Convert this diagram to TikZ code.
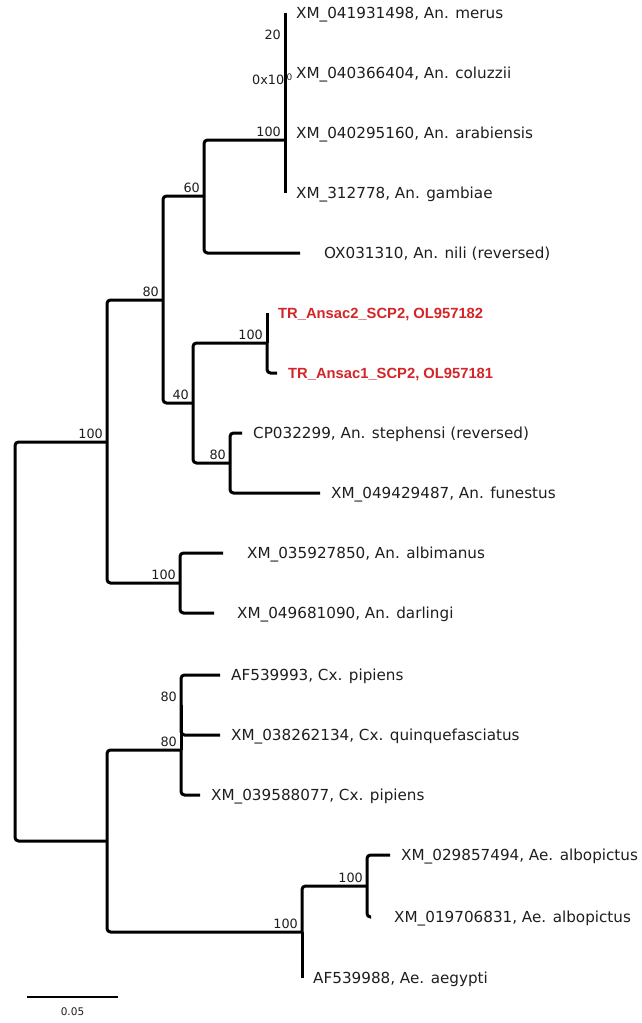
\documentclass[tikz,border=0pt]{standalone}
\usepackage{fontspec}
\setmainfont{DejaVu Sans}
\newfontfamily\redfont{Liberation Sans}
\usetikzlibrary{calc}
\definecolor{leafred}{RGB}{212,36,40}
\definecolor{txt}{RGB}{30,30,30}
\begin{document}
\begin{tikzpicture}[x=1pt,y=-1pt,
  br/.style={line width=3pt, rounded corners=3.5pt},
  leaf/.style={anchor=base west, inner sep=0pt, xshift=11pt, yshift=-5.5pt, font=\fontsize{15.2}{17}\selectfont, text=txt},
  redleaf/.style={leaf, font=\redfont\bfseries\fontsize{14.75}{17}\selectfont, text=leafred},
  supp/.style={anchor=base east, inner sep=0pt, xshift=-4pt, yshift=3.5pt, font=\fontsize{12.8}{14}\selectfont, text=txt},
  scalebar/.style={line width=2pt}]
\useasboundingbox (0,0) rectangle (642,1023);
% leaves
\coordinate (merus) at (285,13);
\coordinate (coluzzii) at (285,73);
\coordinate (arabiensis) at (285,133);
\coordinate (gambiae) at (285,193);
\coordinate (nili) at (300,253);
\coordinate (ansac2) at (267,313);
\coordinate (ansac1) at (277,373);
\coordinate (stephensi) at (242,433);
\coordinate (funestus) at (320,493);
\coordinate (albimanus) at (223,553);
\coordinate (darlingi) at (214,613);
\coordinate (pipA) at (220,675);
\coordinate (quinq) at (220,735);
\coordinate (pipB) at (200,795);
\coordinate (alboA) at (390,855);
\coordinate (alboB) at (371,917);
\coordinate (aegypti) at (302,978);
% internal nodes
\coordinate (n20) at (285,43);
\coordinate (n0) at (285,88);
\coordinate (nA100) at (285,140);
\coordinate (n60) at (204,196);
\coordinate (nB100) at (267,343);
\coordinate (nB80) at (230,463);
\coordinate (n40) at (193,403);
\coordinate (nA80) at (163,300);
\coordinate (nC100) at (107,442);
\coordinate (nD100) at (180,583);
\coordinate (nC80) at (181,705);
\coordinate (nD80) at (181,750);
\coordinate (nE100) at (367,886);
\coordinate (nF100) at (302,932);
\coordinate (nCA) at (107,841);
\coordinate (root) at (15,641);
\coordinate (sbL) at (27,997);
\coordinate (sbR) at (118,997);

% support labels
\node[supp] (s20) at (n20) {20};
\node[supp, anchor=base west, xshift=-29pt] (s0) at (n0) {0x10\kern2.5pt\textsuperscript{0}};
\node[supp] (sA100) at (nA100) {100};
\node[supp] (s60) at (n60) {60};
\node[supp] (sA80) at (nA80) {80};
\node[supp] (sB100) at (nB100) {100};
\node[supp] (s40) at (n40) {40};
\node[supp] (sB80) at (nB80) {80};
\node[supp] (sC100) at (nC100) {100};
\node[supp] (sD100) at (nD100) {100};
\node[supp] (sC80) at (nC80) {80};
\node[supp] (sD80) at (nD80) {80};
\node[supp] (sE100) at (nE100) {100};
\node[supp] (sF100) at (nF100) {100};

% branches
\draw[br] (n20) -- (merus);
\draw[br] (n20) -- (coluzzii);
\draw[br] (n0) -- (n20);
\draw[br] (n0) -- (arabiensis);
\draw[br] (nA100) -- (n0);
\draw[br] (nA100) -- (gambiae);
\draw[br] (n60) |- (nA100);
\draw[br] (n60) |- (nili);
\draw[br] (nB100) -- (ansac2);
\draw[br] (nB100) |- (ansac1);
\draw[br] (nB80) |- (stephensi);
\draw[br] (nB80) |- (funestus);
\draw[br] (n40) |- (nB100);
\draw[br] (n40) |- (nB80);
\draw[br] (nA80) |- (n60);
\draw[br] (nA80) |- (n40);
\draw[br] (nD100) |- (albimanus);
\draw[br] (nD100) |- (darlingi);
\draw[br] (nC100) |- (nA80);
\draw[br] (nC100) |- (nD100);
\draw[br] (nC80) |- (pipA);
\draw[br] (nC80) |- (quinq);
\draw[br] (nD80) -- (nC80);
\draw[br] (nD80) |- (pipB);
\draw[br] (nE100) |- (alboA);
\draw[br] (nE100) |- (alboB);
\draw[br] (nF100) |- (nE100);
\draw[br] (nF100) |- (aegypti);
\draw[br] (nCA) |- (nD80);
\draw[br] (nCA) |- (nF100);
\draw[br] (root) |- (nC100);
\draw[br] (root) |- (nCA);

% leaf labels
\node[leaf] (lmerus) at (merus) {XM\_041931498, An. merus};
\node[leaf] (lcoluzzii) at (coluzzii) {XM\_040366404, An. coluzzii};
\node[leaf] (larabiensis) at (arabiensis) {XM\_040295160, An. arabiensis};
\node[leaf] (lgambiae) at (gambiae) {XM\_312778, An. gambiae};
\node[leaf, xshift=13pt] (lnili) at (nili) {OX031310, An. nili (reversed)};
\node[redleaf] (lansac2) at (ansac2) {TR\_Ansac2\_SCP2, OL957182};
\node[redleaf] (lansac1) at (ansac1) {TR\_Ansac1\_SCP2, OL957181};
\node[leaf] (lstephensi) at (stephensi) {CP032299, An. stephensi (reversed)};
\node[leaf] (lfunestus) at (funestus) {XM\_049429487, An. funestus};
\node[leaf, xshift=13pt] (lalbimanus) at (albimanus) {XM\_035927850, An. albimanus};
\node[leaf, xshift=12pt] (ldarlingi) at (darlingi) {XM\_049681090, An. darlingi};
\node[leaf] (lpipA) at (pipA) {AF539993, Cx. pipiens};
\node[leaf] (lquinq) at (quinq) {XM\_038262134, Cx. quinquefasciatus};
\node[leaf] (lpipB) at (pipB) {XM\_039588077, Cx. pipiens};
\node[leaf] (lalboA) at (alboA) {XM\_029857494, Ae. albopictus};
\node[leaf, xshift=12pt] (lalboB) at (alboB) {XM\_019706831, Ae. albopictus};
\node[leaf] (laegypti) at (aegypti) {AF539988, Ae. aegypti};

% scale bar
\draw[scalebar] (sbL) -- (sbR);
\node[anchor=base, inner sep=0pt, font=\fontsize{10.5}{12}\selectfont, text=txt] (sblab) at ($(sbL)!0.5!(sbR)+(0,18)$) {0.05};
\end{tikzpicture}
\end{document}
